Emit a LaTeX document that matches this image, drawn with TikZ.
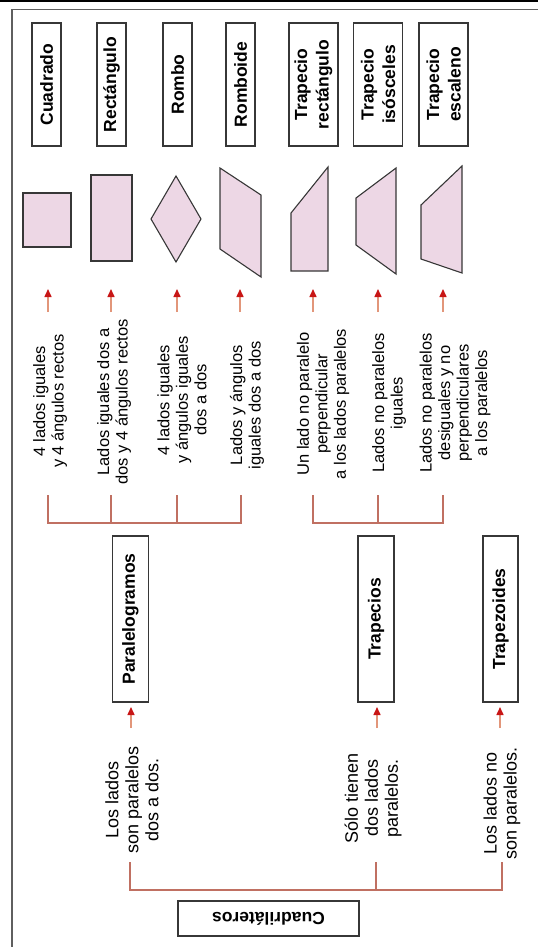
\documentclass[tikz,border=0pt]{standalone}
\usepackage{fontspec}
\setmainfont{Liberation Sans}
\usepackage{tikz}
\usetikzlibrary{arrows.meta}

\definecolor{framec}{RGB}{95,95,95}
\definecolor{brackc}{RGB}{192,112,98}
\definecolor{shaftc}{RGB}{226,150,122}
\definecolor{tipc}{RGB}{200,22,22}
\definecolor{pinkc}{RGB}{237,215,229}
\definecolor{edgec}{RGB}{55,55,55}

\begin{document}
\begin{tikzpicture}[x=1pt, y=-1pt,
    box/.style={draw=edgec, line width=1.2pt, rotate=90, inner sep=2pt, align=center,
        minimum width=123pt, minimum height=29pt,
        font=\fontsize{17.5}{21.5}\selectfont\bfseries},
    midbox/.style={box, minimum width=166pt, minimum height=36pt},
    txt/.style={rotate=90, inner sep=0pt, align=center, font=\fontsize{16.5}{18.5}\selectfont},
    lowtxt/.style={rotate=90, inner sep=0pt, align=center, font=\fontsize{18}{20}\selectfont},
    shp/.style={draw=edgec, fill=pinkc, line width=1.1pt, line join=miter},
    brk/.style={draw=brackc, line width=1.3pt},
    arr/.style={draw=shaftc, line width=1.5pt, -{Triangle[length=8pt, width=7pt, color=tipc]}}]

    \useasboundingbox (0,0) rectangle (538,947);

    % frame
    \draw[black, line width=2pt] (0,1) -- (538,1);
    \draw[framec, line width=1.6pt] (12,947) -- (12,9.5) -- (538,9.5);

    % names of the figures
    \node[box] (cuad) at (46.5,84.5) {Cuadrado};
    \node[box] (rect) at (111.5,84.5) {Rectángulo};
    \node[box] (rombo) at (177.5,84.5) {Rombo};
    \node[box] (romboide) at (240.5,84.5) {Romboide};
    \node[box, minimum height=49pt] (trect) at (313.5,84.5) {Trapecio\\rectángulo};
    \node[box, minimum height=49pt] (tisos) at (378,84.5) {Trapecio\\isósceles};
    \node[box, minimum height=49pt] (tesc) at (443.5,84.5) {Trapecio\\escaleno};

    % figures
    \draw[shp] (23,193) rectangle (71,247);
    \draw[shp] (91,175) rectangle (132,261);
    \draw[shp] (176,176) -- (201,219) -- (176,262) -- (151,219) -- cycle;
    \draw[shp] (220,168) -- (261,195) -- (261,277) -- (220,249) -- cycle;
    \draw[shp] (291,213) -- (328,167) -- (328,271) -- (291,271) -- cycle;
    \draw[shp] (356,198) -- (396,168) -- (396,274) -- (356,245) -- cycle;
    \draw[shp] (421,205) -- (462,166) -- (462,273) -- (421,259) -- cycle;

    % arrows to the figures
    \coordinate (a1) at (48,312);
    \coordinate (a2) at (111,312);
    \coordinate (a3) at (177,312);
    \coordinate (a4) at (240,312);
    \coordinate (a5) at (313,312);
    \coordinate (a6) at (378,312);
    \coordinate (a7) at (443,312);
    \draw[arr] (a1) -- ++(0,-23);
    \draw[arr] (a2) -- ++(0,-23);
    \draw[arr] (a3) -- ++(0,-23);
    \draw[arr] (a4) -- ++(0,-23);
    \draw[arr] (a5) -- ++(0,-23);
    \draw[arr] (a6) -- ++(0,-23);
    \draw[arr] (a7) -- ++(0,-23);

    % properties
    \node[txt] (t1) at (50,401) {4 lados iguales\\y 4 ángulos rectos};
    \node[txt] (t2) at (114,402) {Lados iguales dos a\\dos y 4 ángulos rectos};
    \node[txt] (t3) at (182,400) {4 lados iguales\\y ángulos iguales\\dos a dos};
    \node[txt] (t4) at (247,405) {Lados y ángulos\\iguales dos a dos};
    \node[txt] (t5) at (323,404) {Un lado no paralelo\\perpendicular\\a los lados paralelos};
    \node[txt] (t6) at (389,403) {Lados no paralelos\\iguales};
    \node[txt] (t7) at (455,403) {Lados no paralelos\\desiguales y no\\perpendiculares\\a los paralelos};

    % upper brackets
    \draw[brk] (48,495) -- (48,523) -- (241,523) -- (241,495);
    \draw[brk] (111,495) -- (111,523);
    \draw[brk] (177,495) -- (177,523);
    \draw[brk] (313,495) -- (313,523) -- (443,523) -- (443,495);
    \draw[brk] (378,495) -- (378,523);

    % groups
    \node[midbox] (para) at (130.5,619) {Paralelogramos};
    \node[midbox] (trap) at (376,619) {Trapecios};
    \node[midbox, minimum height=35pt] (trapz) at (500.5,619) {Trapezoides};

    \coordinate (b1) at (131,728);
    \coordinate (b2) at (377,728);
    \coordinate (b3) at (500,728);
    \draw[arr] (b1) -- ++(0,-21);
    \draw[arr] (b2) -- ++(0,-21);
    \draw[arr] (b3) -- ++(0,-21);

    \node[lowtxt] (l1) at (132,800) {Los lados\\son paralelos\\dos a dos.};
    \node[lowtxt] (l2) at (373,798) {Sólo tienen\\dos lados\\paralelos.};
    \node[lowtxt] (l3) at (502,803) {Los lados no\\son paralelos.};

    % lower bracket
    \draw[brk] (130,862) -- (130,890) -- (502,890) -- (502,862);
    \draw[brk] (376,862) -- (376,890);

    \node[draw=edgec, line width=1.3pt, rotate=180, minimum width=181pt, minimum height=35pt,
        font=\fontsize{17.5}{21}\selectfont\bfseries] (cuadri) at (268.5,918.5) {Cuadriláteros};

\end{tikzpicture}
\end{document}
